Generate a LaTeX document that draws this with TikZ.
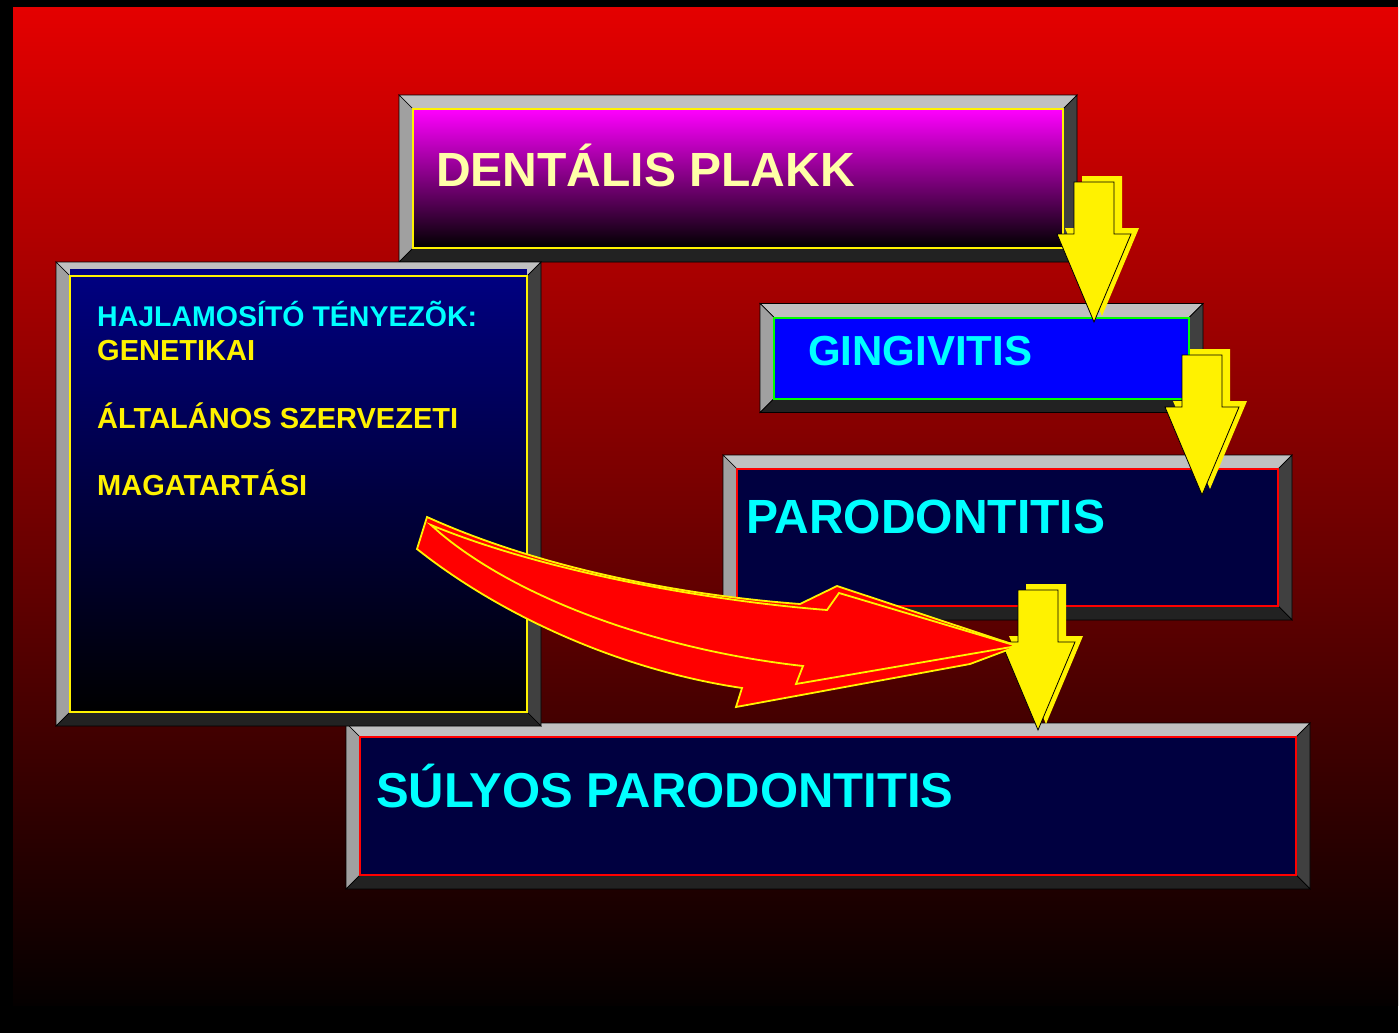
\documentclass[tikz,border=0pt]{standalone}
\usepackage{fontspec}
\setmainfont{Liberation Sans}
\usepackage{tikz}
\usetikzlibrary{calc}
\definecolor{bgTopC}{RGB}{228,0,0}
\definecolor{bgBotC}{RGB}{4,0,0}
\definecolor{bevTopC}{RGB}{192,192,192}
\definecolor{bevLeftC}{RGB}{160,160,160}
\definecolor{bevRightC}{RGB}{64,64,64}
\definecolor{bevBotC}{RGB}{34,34,34}
\definecolor{plakkC}{RGB}{255,0,255}
\definecolor{navyC}{RGB}{0,0,128}
\definecolor{deepC}{RGB}{0,0,64}
\definecolor{paleYellowC}{RGB}{255,255,168}
\definecolor{textCyanC}{RGB}{0,255,255}

\tikzset{
  face/.style={rectangle, inner sep=0pt, outer sep=0pt, line width=2pt},
  bevel/.style={draw=black, line width=0.7pt},
  lbl/.style={font=\bfseries\fontsize{#1}{#1}\selectfont, anchor=base west, inner sep=0pt},
  redarrow/.style={fill=red, draw=yellow, line width=1.8pt},
  yfront/.style={fill=yellow, draw=black, line width=0.8pt},
}

% framed box with a 14pt bevel: name, centre, width, height, face options
\newcommand{\bevelbox}[5]{%
  \begin{scope}[shift={(#2)}]
    \filldraw[bevel, fill=bevTopC] ({-#3/2-14},{-#4/2-14}) -- ({#3/2+14},{-#4/2-14}) -- ({#3/2},{-#4/2}) -- ({-#3/2},{-#4/2}) -- cycle;
    \filldraw[bevel, fill=bevLeftC] ({-#3/2-14},{-#4/2-14}) -- ({-#3/2},{-#4/2}) -- ({-#3/2},{#4/2}) -- ({-#3/2-14},{#4/2+14}) -- cycle;
    \filldraw[bevel, fill=bevRightC] ({#3/2+14},{-#4/2-14}) -- ({#3/2},{-#4/2}) -- ({#3/2},{#4/2}) -- ({#3/2+14},{#4/2+14}) -- cycle;
    \filldraw[bevel, fill=bevBotC] ({-#3/2-14},{#4/2+14}) -- ({-#3/2},{#4/2}) -- ({#3/2},{#4/2}) -- ({#3/2+14},{#4/2+14}) -- cycle;
    \node[face, minimum width=#3pt, minimum height=#4pt, #5] (#1) at (0,0) {};
  \end{scope}}

% yellow block arrow with its shadow, drawn up from the tip
\newcommand{\yarrow}[1]{%
  \fill[yellow] ($(#1)+(8,-6)$) -- ++(-37,-88) -- ++(17,0) -- ++(0,-52) -- ++(40,0) -- ++(0,52) -- ++(17,0) -- cycle;
  \filldraw[yfront] (#1) -- ++(-37,-88) -- ++(17,0) -- ++(0,-52) -- ++(40,0) -- ++(0,52) -- ++(17,0) -- cycle;}

\begin{document}
\begin{tikzpicture}[x=1pt,y=-1pt]
  \useasboundingbox (0,0) rectangle (1400,1033);
  % Slide background
  \fill[black] (0,0) rectangle (1400,1033);
  \fill[white] (1398,0) rectangle (1400,1033);
  \shade[top color=bgTopC, bottom color=bgBotC] (13,8) rectangle (1398,1005);

  % Boxes
  \bevelbox{plakk}{738,178.5}{650}{139}{draw=yellow, top color=plakkC, bottom color=black}
  \bevelbox{gingi}{981.5,358}{415}{81}{draw=green, fill=blue}
  \bevelbox{parod}{1007.5,537.5}{541}{137}{draw=red, fill=deepC}
  \bevelbox{sulyos}{828,806}{936}{138}{draw=red, fill=deepC}
  \bevelbox{hajlam}{298.5,494}{457}{436}{draw=yellow, top color=navyC, bottom color=black}
  \fill[navyC] ($(hajlam.north west)+(0,-7)$) rectangle ($(hajlam.north east)+(0,-1)$);

  % Labels
  \node[lbl=48, text=paleYellowC] (plakktxt) at (436,186) {DENTÁLIS PLAKK};
  \node[lbl=42, text=textCyanC] (gingitxt) at (808,365) {GINGIVITIS};
  \node[lbl=48, text=textCyanC] (parodtxt) at (746,533) {PARODONTITIS};
  \node[lbl=49, text=textCyanC] (sulyostxt) at (376,807) {SÚLYOS PARODONTITIS};
  \foreach \yy/\txt/\col/\sz [count=\i] in {326/{HAJLAMOSÍTÓ TÉNYEZÕK:}/textCyanC/28.5,
      360/GENETIKAI/yellow/29, 428/{ÁLTALÁNOS SZERVEZETI}/yellow/29, 495/MAGATARTÁSI/yellow/29}
    \node[lbl=\sz, text=\col] (hl\i) at (97,\yy) {\txt};

  % Yellow arrows down the chain
  \coordinate (tipGingi) at (1094,322);
  \coordinate (tipParod) at (1202,495);
  \coordinate (tipSulyos) at (1038,730);
  \yarrow{tipGingi}
  \yarrow{tipParod}
  \yarrow{tipSulyos}

  % Curved red arrow from the risk factors
  \coordinate (rtail) at (427,517);
  \coordinate (rtip) at (1018,646);
  \filldraw[redarrow] (rtail) .. controls (540,568) and (680,595) .. (800,604)
    -- (837,586) -- (rtip) -- (970,664) -- (736,707) -- (742,688)
    .. controls (620,670) and (500,615) .. (417,549) -- cycle;
  \filldraw[redarrow] ($(rtail)+(4,8)$) .. controls (540,570) and (700,600) .. (827,610)
    -- (839,593) -- ($(rtip)+(-1,0)$) -- (796,684) -- (803,666)
    .. controls (660,650) and (520,600) .. (440,533) -- cycle;
\end{tikzpicture}
\end{document}
